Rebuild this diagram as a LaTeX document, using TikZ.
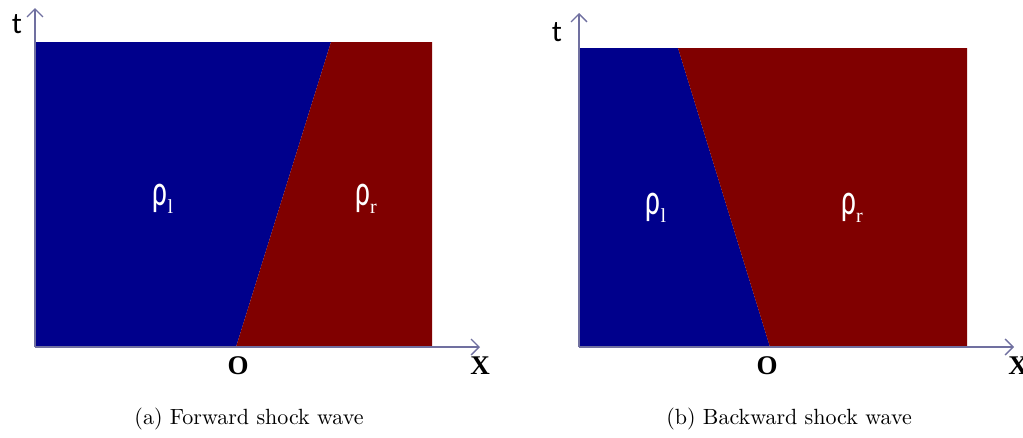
\documentclass[tikz,border=0pt]{standalone}
\usepackage{fontspec}
\usepackage{graphicx}
\usetikzlibrary{arrows.meta}
\newfontfamily\carl{Carlito}
\newfontfamily\tms{Liberation Serif}
\newfontfamily\lmten{lmroman10-regular.otf}
\definecolor{dblue}{RGB}{0,0,140}
\definecolor{dred}{RGB}{128,0,0}
\definecolor{axc}{RGB}{112,112,160}
\newcommand\rhosub[1]{\scalebox{0.66}[1]{ρ}\raisebox{-8pt}{\tms\fontsize{20}{22}\selectfont #1}}
\begin{document}
\begin{tikzpicture}[x=1pt,y=-1pt,
  axis/.style={draw=axc,line width=1.3pt,-{Straight Barb[length=8pt,width=16pt,line width=1.3pt]}},
  rho/.style={text=white,font=\carl\fontsize{44}{46}\selectfont,inner sep=0pt},
  tlab/.style={font=\carl\fontsize{30}{32}\selectfont,inner sep=0pt},
  olab/.style={font=\tms\bfseries\fontsize{27}{29}\selectfont,inner sep=0pt},
  captext/.style={font=\lmten\fontsize{22}{26}\selectfont,inner sep=0pt}]
\useasboundingbox (0,0) rectangle (1023,437);
% left panel
\coordinate (la) at (35,347);
\coordinate (lb) at (236,347);
\coordinate (lc) at (331,42);
\fill[dblue] (35,42) -- (lc) -- (lb) -- (la) -- cycle;
\fill[dred] (lc) -- (432,42) -- (432,347) -- (lb) -- cycle;
\coordinate (lty) at (35,8);
\coordinate (ltx) at (480,347);
\draw[axis] (la) -- (lty);
\draw[axis] (la) -- (ltx);
\node[tlab] (lt) at (17,24) {t};
\node[olab] (lx) at (480,366) {X};
\node[olab] (lo) at (238,366) {O};
\node[rho] (lrl) at (163,199) {\rhosub{l}};
\node[rho] (lrr) at (366,199) {\rhosub{r}};
\node[captext] (capa) at (249,419) {(a) Forward shock wave};
% right panel
\coordinate (ra) at (579,347);
\coordinate (rb) at (770,347);
\coordinate (rc) at (678,48);
\fill[dblue] (579,48) -- (rc) -- (rb) -- (ra) -- cycle;
\fill[dred] (rc) -- (967,48) -- (967,347) -- (rb) -- cycle;
\coordinate (rty) at (579,13);
\coordinate (rtx) at (1014,347);
\draw[axis] (ra) -- (rty);
\draw[axis] (ra) -- (rtx);
\node[tlab] (rt) at (557,32) {t};
\node[olab] (rx) at (1018,366) {X};
\node[olab] (ro) at (767,366) {O};
\node[rho] (rrl) at (656,208) {\rhosub{l}};
\node[rho] (rrr) at (852,208) {\rhosub{r}};
\node[captext] (capb) at (789,419) {(b) Backward shock wave};
\end{tikzpicture}
\end{document}
